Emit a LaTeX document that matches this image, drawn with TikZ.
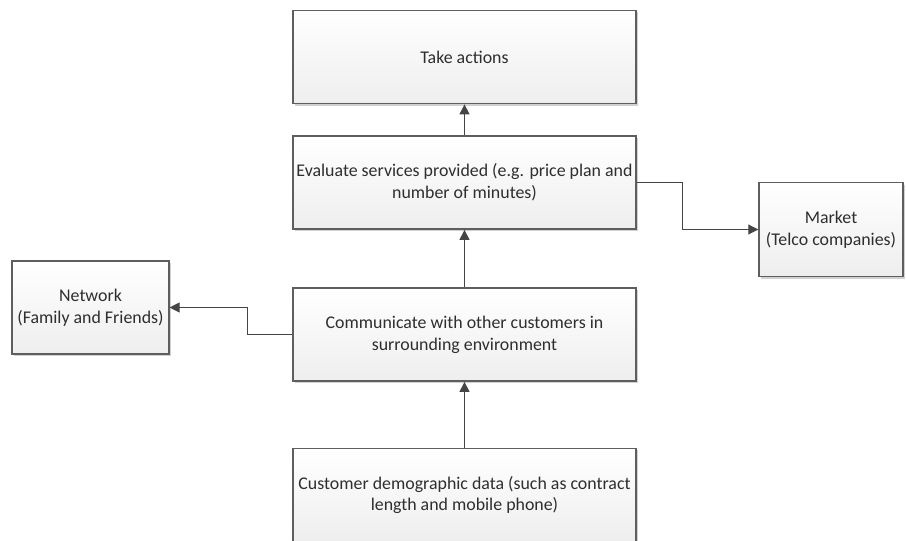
\documentclass[tikz,border=0pt]{standalone}
\usepackage{fontspec}
\setmainfont{Carlito}
\usetikzlibrary{arrows.meta,shadows}
\definecolor{boxline}{HTML}{5E5E5E}
\definecolor{boxtop}{HTML}{FFFFFF}
\definecolor{boxbottom}{HTML}{EEEEEE}
\definecolor{wire}{HTML}{454545}
\definecolor{ink}{HTML}{2E2E2E}
\begin{document}
\begin{tikzpicture}[x=0.75pt,y=-0.75pt,
  box/.style={draw=boxline, line width=1.1pt, top color=boxtop, bottom color=boxbottom,
    align=center, text=ink, font=\fontsize{13.4}{16.3}\selectfont, inner sep=1pt,
    drop shadow={shadow xshift=1.6pt, shadow yshift=-1.6pt, fill=black!18, opacity=1}},
  widebox/.style={box, minimum width=257pt, minimum height=70pt},
  link/.style={draw=wire, line width=0.8pt, line join=miter, -{Triangle[length=7.5pt,width=7.5pt]}}]
\path[use as bounding box, clip] (0,0) rectangle (906,541);

% main column
\node[widebox] (take) at (464.5,57) {Take actions};
\node[widebox] (eval) at (464.5,182.5) {Evaluate services provided (e.g. price plan and\\number of minutes)};
\node[widebox] (comm) at (464.5,334.5) {Communicate with other customers in\\surrounding environment};
\node[widebox] (cust) at (464.5,495) {Customer demographic data (such as contract\\length and mobile phone)};

% side boxes
\node[box, minimum width=117.5pt, minimum height=70pt] (net) at (90.5,307.5) {Network\\(Family and Friends)};
\node[box, minimum width=108pt, minimum height=70.5pt] (mkt) at (831,229.5) {Market\\(Telco companies)};

% elbow points
\coordinate (k1) at (682.5,182.5);
\coordinate (k2) at (247.5,334.5);

% connectors
\draw[link] (cust) -- (comm);
\draw[link] (comm) -- (eval);
\draw[link] (eval) -- (take);
\draw[link] (eval.east) -- (k1) |- (mkt.west);
\draw[link] (comm.west) -- (k2) |- (net.east);
\end{tikzpicture}
\end{document}
